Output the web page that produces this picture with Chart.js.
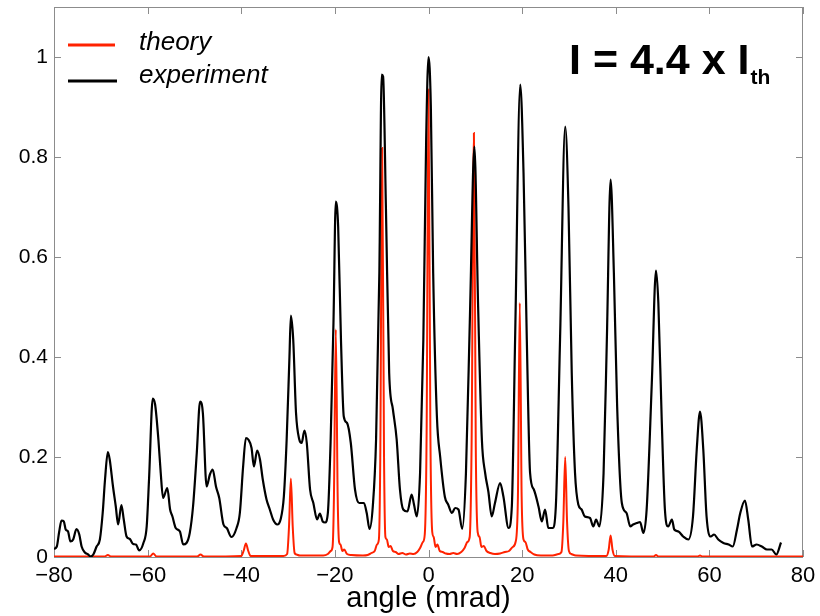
<!DOCTYPE html>
<html>
<head>
<meta charset="utf-8">
<script src="https://cdn.jsdelivr.net/npm/chart.js@4.4.1/dist/chart.umd.min.js"></script>
<style>
body { margin: 0; background: #fff; }
#wrap { width: 820px; height: 616px; }
</style>
</head>
<body>
<div id="wrap"><canvas id="chart" width="820" height="616"></canvas></div>
<script>
// experiment (black) - angle in mrad, normalised intensity
const expX = [-80.0,-79.4,-78.9,-78.4,-77.9,-77.5,-77.0,-76.5,-75.9,-75.2,-74.6,-74.1,-73.4,-72.7,-72.2,-71.6,-70.9,-70.2,-69.6,-69.1,
  -68.5,-68.1,-67.4,-66.8,-66.3,-65.6,-65.1,-64.5,-63.8,-63.1,-62.5,-61.8,-60.9,-60.2,-59.7,-58.9,-58.4,-57.7,-57.2,-56.7,
  -55.8,-55.2,-54.7,-54.0,-53.1,-52.4,-51.7,-51.0,-50.3,-49.5,-48.8,-48.2,-47.4,-46.7,-46.1,-45.4,-44.7,-43.8,-43.1,-42.1,
  -41.0,-40.3,-39.6,-39.0,-38.5,-37.8,-37.3,-36.6,-36.0,-35.4,-34.6,-33.9,-33.2,-32.3,-31.6,-30.9,-30.3,-29.7,-29.4,-28.9,
  -28.3,-27.6,-27.1,-26.5,-26.0,-25.3,-24.6,-23.8,-23.2,-22.6,-22.1,-21.5,-20.9,-20.3,-19.8,-19.3,-18.7,-18.1,-17.4,-16.6,
  -15.7,-14.8,-13.8,-13.2,-12.6,-11.9,-11.2,-10.5,-10.0,-9.7,-9.1,-8.4,-7.6,-6.8,-6.1,-5.4,-4.5,-3.6,-3.1,-2.5,
  -1.8,-1.1,-0.5,0.0,0.5,1.0,1.8,2.5,3.5,4.2,5.0,5.7,6.4,7.2,8.0,8.9,9.8,10.6,11.4,12.1,
  12.8,13.5,14.2,15.3,16.0,17.1,17.8,18.5,19.6,20.3,21.0,21.7,22.5,23.5,24.2,24.9,25.6,26.5,27.2,28.1,
  29.2,29.9,30.6,31.3,32.0,32.7,33.4,34.5,35.2,35.8,36.5,37.4,38.1,38.9,39.6,40.3,41.3,42.3,43.1,43.7,
  44.5,45.2,45.9,46.6,47.7,48.6,49.1,49.8,50.5,51.2,52.0,52.5,53.4,54.4,55.5,56.5,57.3,58.0,58.7,59.4,
  60.3,61.0,61.9,63.0,64.1,65.0,65.9,66.6,67.6,68.3,69.1,70.1,71.2,72.3,73.3,74.3,75.3];
const expY = [0.016,0.021,0.05,0.073,0.071,0.055,0.051,0.031,0.035,0.056,0.045,0.021,0.009,0.005,0.001,0.005,0.021,0.035,0.088,0.155,
  0.21,0.195,0.141,0.101,0.065,0.104,0.075,0.041,0.036,0.026,0.025,0.013,0.028,0.061,0.155,0.317,0.305,0.235,0.168,0.118,
  0.138,0.095,0.081,0.058,0.051,0.025,0.028,0.048,0.101,0.208,0.311,0.288,0.141,0.165,0.175,0.141,0.118,0.065,0.058,0.040,
  0.058,0.088,0.181,0.238,0.235,0.218,0.181,0.213,0.195,0.155,0.115,0.095,0.075,0.065,0.075,0.121,0.235,0.401,0.483,0.435,
  0.288,0.235,0.228,0.253,0.228,0.135,0.108,0.075,0.087,0.071,0.069,0.088,0.235,0.468,0.711,0.661,0.435,0.281,0.268,0.228,
  0.135,0.108,0.108,0.088,0.056,0.101,0.235,0.568,0.965,0.961,0.701,0.368,0.295,0.235,0.135,0.095,0.091,0.125,0.105,0.081,
  0.168,0.435,0.835,1.0,0.901,0.568,0.28,0.2,0.12,0.105,0.088,0.098,0.095,0.056,0.168,0.501,0.821,0.501,0.235,0.168,
  0.13,0.081,0.108,0.148,0.121,0.058,0.101,0.435,0.945,0.768,0.435,0.168,0.135,0.101,0.071,0.095,0.058,0.058,0.101,0.435,
  0.861,0.701,0.368,0.168,0.105,0.095,0.081,0.078,0.061,0.075,0.061,0.168,0.435,0.755,0.568,0.301,0.108,0.088,0.061,0.065,
  0.068,0.07,0.048,0.095,0.348,0.573,0.508,0.281,0.095,0.061,0.075,0.055,0.051,0.041,0.035,0.081,0.215,0.291,0.215,0.081,
  0.041,0.045,0.035,0.028,0.025,0.021,0.055,0.088,0.113,0.075,0.021,0.025,0.021,0.015,0.015,0.005,0.029];

// theory (red)
const theoryX = [-80,-69.2,-68.5,-67.8,-59.5,-58.8,-58.1,-49.4,-48.7,-48.0,-40.0,-39.5,-39.0,-38.5,-38.0,
  -31,-30.2,-29.8,-29.4,-29.0,-28.6,-28.2,-27.5,-22.5,-21.5,-20.9,-20.5,-20.2,-19.8,-19.4,-19.1,-18.8,-18.4,-18.0,-17.4,-16.5,
  -14,-13,-12.2,-11.5,-11.0,-10.6,-10.3,-9.9,-9.5,-9.2,-8.9,-8.5,-8.1,-7.6,-7.0,-6.4,-5.6,-4.8,-4.0,-3.2,-2.4,-1.8,-1.2,-0.8,-0.4,
  0.0,0.4,0.8,1.1,1.5,1.9,2.4,3.0,3.7,4.5,5.3,6.1,7.0,7.7,8.3,8.8,9.2,9.7,10.1,10.5,10.9,11.3,11.8,12.4,13.2,14.2,
  15.3,16.3,17.2,18.0,18.6,19.1,19.5,19.9,20.3,20.7,21.2,21.8,22.6,24,26.5,27.8,28.4,28.8,29.2,29.6,30.0,30.5,31.5,
  38.0,38.5,38.9,39.3,39.8,48.1,48.6,49.1,57.5,58.0,58.5,80];
const theoryY = [0.001,0.001,0.004,0.001,0.001,0.007,0.001,0.001,0.005,0.001,0.002,0.012,0.027,0.012,0.002,
  0.002,0.006,0.06,0.157,0.06,0.008,0.005,0.003,0.003,0.006,0.012,0.02,0.12,0.455,0.12,0.03,0.025,0.012,0.015,0.006,0.004,
  0.003,0.004,0.008,0.012,0.025,0.035,0.2,0.818,0.2,0.04,0.035,0.02,0.022,0.012,0.01,0.006,0.008,0.005,0.007,0.006,0.01,0.018,0.03,0.045,0.25,
  0.935,0.25,0.05,0.04,0.02,0.025,0.012,0.01,0.007,0.006,0.008,0.006,0.01,0.018,0.03,0.04,0.22,0.848,0.22,0.05,0.04,0.02,0.022,0.012,0.008,0.006,
  0.007,0.01,0.012,0.02,0.03,0.12,0.508,0.12,0.035,0.03,0.015,0.01,0.005,0.003,0.003,0.006,0.01,0.07,0.2,0.07,0.012,0.006,0.003,
  0.002,0.015,0.043,0.015,0.002,0.001,0.004,0.001,0.001,0.003,0.001,0.001];

const xTicks = [-80, -60, -40, -20, 0, 20, 40, 60, 80];
const yTicks = [0, 0.2, 0.4, 0.6, 0.8, 1];

const FONT = '"Liberation Sans", Arial, Helvetica, sans-serif';
const RED = "#ff2200";

const framePlugin = {
    id: "frame",
    beforeDatasetsDraw(chart) {
        const { ctx, chartArea: a, scales } = chart;
        ctx.save();
        ctx.strokeStyle = "#8c8c8c";
        ctx.lineWidth = 1;
        ctx.strokeRect(a.left + 0.5, a.top + 0.5, a.right - a.left - 1, a.bottom - a.top);
        ctx.beginPath();
        xTicks.forEach(v => {
            const px = Math.round(scales.x.getPixelForValue(v)) + 0.5;
            ctx.moveTo(px, a.bottom); ctx.lineTo(px, a.bottom - 7);
            ctx.moveTo(px, a.top); ctx.lineTo(px, a.top + 7);
        });
        yTicks.forEach(v => {
            const py = Math.round(scales.y.getPixelForValue(v)) + 0.5;
            ctx.moveTo(a.left, py); ctx.lineTo(a.left + 7, py);
            ctx.moveTo(a.right, py); ctx.lineTo(a.right - 7, py);
        });
        ctx.stroke();
        ctx.restore();
    },
    afterDatasetsDraw(chart) {
        const ctx = chart.ctx;
        ctx.save();
        // legend
        ctx.lineWidth = 3;
        ctx.strokeStyle = RED;
        ctx.beginPath(); ctx.moveTo(68, 45); ctx.lineTo(115, 45); ctx.stroke();
        ctx.strokeStyle = "#000";
        ctx.beginPath(); ctx.moveTo(68, 81); ctx.lineTo(117, 81); ctx.stroke();
        ctx.fillStyle = "#000";
        ctx.textBaseline = "alphabetic";
        ctx.font = "italic 26px " + FONT;
        ctx.fillText(chart.data.datasets[0].label, 139, 50);
        ctx.fillText(chart.data.datasets[1].label, 139, 83);
        // annotation
        ctx.font = "bold 43px " + FONT;
        const main = "I = 4.4 x I";
        ctx.fillText(main, 569, 74);
        const w = ctx.measureText(main).width;
        ctx.font = "bold 21px " + FONT;
        ctx.fillText("th", 569 + w + 1, 84);
        ctx.restore();
    }
};

const ctx = document.getElementById("chart").getContext("2d");
new Chart(ctx, {
    type: "scatter",
    data: {
        datasets: [
            { label: "theory", data: theoryX.map((x, i) => ({ x, y: theoryY[i] })), showLine: true,
              borderColor: RED, borderWidth: 2, pointRadius: 0, cubicInterpolationMode: "monotone", order: 2 },
            { label: "experiment", data: expX.map((x, i) => ({ x, y: expY[i] })), showLine: true,
              borderColor: "#000", borderWidth: 2.2, pointRadius: 0, cubicInterpolationMode: "monotone", order: 1 }
        ]
    },
    options: {
        responsive: false,
        animation: false,
        layout: { padding: { top: 7, right: 17, left: 0, bottom: 0 } },
        plugins: { legend: { display: false }, tooltip: { enabled: false } },
        scales: {
            x: {
                type: "linear", min: -80, max: 80,
                grid: { display: false, drawTicks: false },
                border: { display: false },
                afterBuildTicks: s => { s.ticks = xTicks.map(v => ({ value: v })); },
                afterFit: s => { s.height = 59; s.paddingLeft = 0; s.paddingRight = 0; },
                ticks: { color: "#000", padding: 6, maxRotation: 0, font: { family: FONT, size: 22 },
                         callback: v => String(v).replace("-", "\u2212") },
                title: { display: true, text: "angle (mrad)", color: "#000", padding: 0, font: { family: FONT, size: 29 } }
            },
            y: {
                type: "linear", min: 0, max: 1.1,
                grid: { display: false, drawTicks: false },
                border: { display: false },
                afterBuildTicks: s => { s.ticks = yTicks.map(v => ({ value: v })); },
                afterFit: s => { s.width = 54; s.paddingTop = 0; s.paddingBottom = 0; },
                ticks: { color: "#000", padding: 6, font: { family: FONT, size: 21 },
                         callback: v => String(v) }
            }
        }
    },
    plugins: [framePlugin]
});
</script>
</body>
</html>
